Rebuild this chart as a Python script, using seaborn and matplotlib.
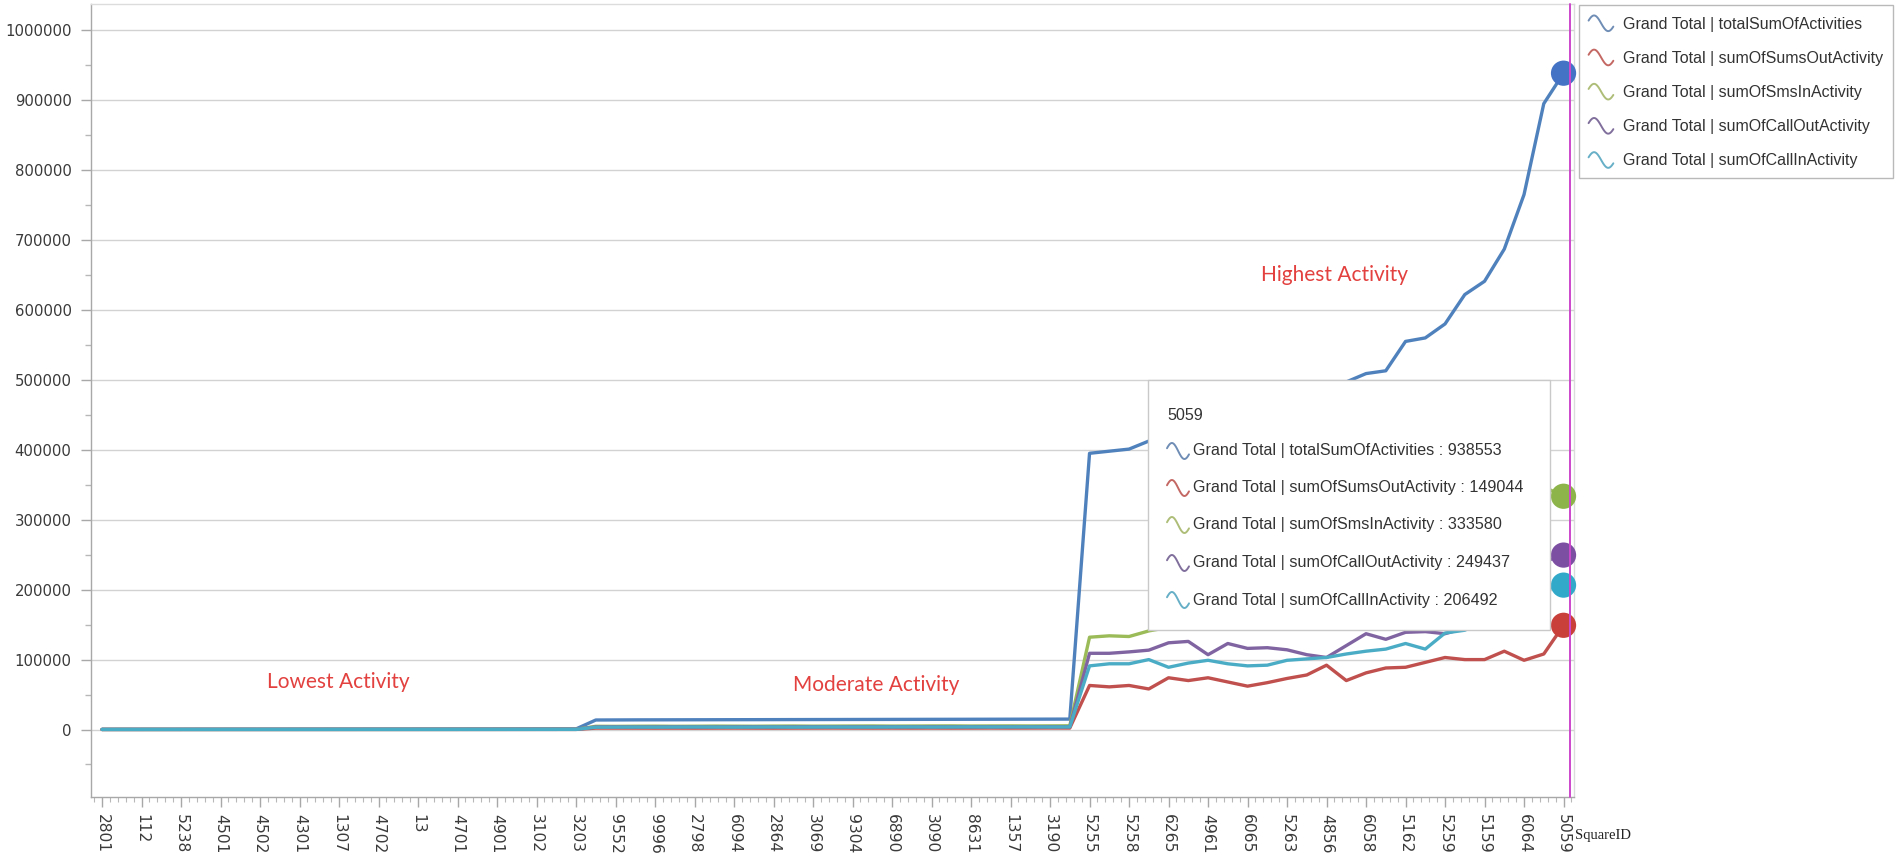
import numpy as np
import pandas as pd
import matplotlib
matplotlib.use("Agg")
import matplotlib.pyplot as plt
import seaborn as sns
from matplotlib.lines import Line2D
from matplotlib.patches import Rectangle
from matplotlib.legend_handler import HandlerBase
from matplotlib.ticker import MultipleLocator, FuncFormatter

# SquareIDs printed on the category axis (every other category carries a label)
square_ids = ["2801", "112", "5238", "4501", "4502", "4301", "1307", "4702", "13",
              "4701", "4901", "3102", "3203", "9552", "9996", "2798", "6094", "2864",
              "3069", "9304", "6890", "3090", "8631", "1357", "3190", "5255", "5258",
              "6265", "4961", "6065", "5263", "4856", "6058", "5162", "5259", "5159",
              "6064", "5059"]

# Activity per square, sorted by total activity (75 categories)
total_activity = [
    300, 320, 340, 360, 380, 400, 420, 440, 460, 480, 500, 520, 540, 560, 580,
    600, 620, 640, 660, 690, 720, 750, 780, 810, 850,
    13600, 13700, 13800, 13850, 13900, 13950, 14000, 14050, 14100, 14150, 14200,
    14250, 14300, 14350, 14400, 14450, 14500, 14550, 14600, 14650, 14700, 14750,
    14800, 14850, 14900,
    395000, 398000, 401000, 412500, 433000, 440000, 445000, 452000, 458000, 464000,
    471000, 478000, 486000, 497000, 509000, 513000, 555000, 560000, 580000, 622000,
    641000, 687000, 765000, 895000, 938553]

sms_out_activity = [
    60, 65, 70, 70, 75, 80, 85, 90, 90, 95, 100, 105, 110, 115, 120, 120, 125, 130,
    135, 140, 145, 150, 155, 160, 170,
    2000, 2000, 2000, 1950, 2000, 1950, 2000, 2050, 2000, 1950, 2000, 2050, 2100,
    2050, 2000, 2050, 2000, 2050, 2000, 2050, 2100, 2050, 2100, 2150, 2100,
    63000, 61000, 63000, 58000, 74000, 70000, 74000, 68000, 62000, 67000, 73000,
    78000, 92000, 70000, 81000, 88000, 89000, 96000, 103000, 100000, 100000,
    112000, 99000, 108000, 149044]

sms_in_activity = [
    90, 95, 100, 110, 115, 120, 125, 130, 140, 145, 150, 155, 160, 165, 170, 180,
    185, 190, 195, 205, 215, 225, 235, 245, 255,
    4600, 4500, 4700, 4800, 4600, 4700, 4900, 4800, 4700, 4900, 5000, 4800, 4900,
    5000, 5100, 4900, 5000, 5100, 5200, 5000, 5100, 5200, 5100, 5200, 5300,
    132000, 134000, 133000, 141000, 146000, 149000, 165000, 167000, 189000, 188000,
    185000, 192000, 188000, 199000, 179000, 181000, 204000, 209000, 202000, 235000,
    224000, 230000, 266000, 347000, 333580]

call_out_activity = [
    80, 85, 90, 95, 100, 105, 110, 115, 120, 125, 130, 135, 140, 145, 150, 155,
    160, 165, 170, 180, 190, 195, 205, 210, 220,
    3700, 3800, 3600, 3700, 3800, 3700, 3600, 3800, 3900, 3700, 3800, 3900, 3700,
    3800, 3800, 3900, 3800, 3900, 3800, 3900, 3900, 3800, 3900, 3900, 3800,
    109000, 109000, 111000, 113500, 124000, 126000, 107000, 123000, 116000, 117000,
    114000, 107000, 103000, 120000, 137000, 129000, 139000, 140000, 137000, 145000,
    162000, 180000, 215000, 240000, 249437]

call_in_activity = [
    70, 75, 80, 85, 90, 95, 100, 105, 110, 115, 120, 125, 130, 135, 140, 145, 150,
    155, 160, 165, 170, 180, 185, 195, 205,
    3300, 3400, 3500, 3400, 3500, 3600, 3500, 3400, 3500, 3600, 3400, 3500, 3600,
    3500, 3500, 3600, 3700, 3500, 3600, 3700, 3600, 3700, 3700, 3600, 3700,
    91000, 94000, 94000, 100000, 89000, 95000, 99000, 94000, 91000, 92000, 99000,
    101000, 103000, 108000, 112000, 115000, 123000, 115000, 138000, 142000, 155000,
    165000, 185000, 200000, 206492]

series_names = ["Grand Total | totalSumOfActivities",
                "Grand Total | sumOfSumsOutActivity",
                "Grand Total | sumOfSmsInActivity",
                "Grand Total | sumOfCallOutActivity",
                "Grand Total | sumOfCallInActivity"]
series_values = [total_activity, sms_out_activity, sms_in_activity,
                 call_out_activity, call_in_activity]
line_colors = ["#4F81BD", "#C0504D", "#9BBB59", "#8064A2", "#4BACC6"]
marker_colors = ["#4472C4", "#C9403A", "#8CB44A", "#7D4FA3", "#33A9C9"]
icon_colors = ["#6F8DB5", "#C46864", "#AEBE78", "#806F9C", "#66AFC6"]

hovered_id = square_ids[-1]
zone_labels = ["Lowest Activity", "Moderate Activity", "Highest Activity"]
zone_pos = [11.95, 39.2, 62.4]
zone_y = [67500, 63000, 650000]

# ---------------------------------------------------------------------------
sns.set_theme(style="white")
plt.rcParams["font.family"] = ["DejaVu Sans"]

W, H = 1903, 860
fig = plt.figure(figsize=(W / 100, H / 100), dpi=100)
fig.patch.set_facecolor("white")
ax = fig.add_axes([91 / W, 63 / H, 1483 / W, 793 / H])

n = len(total_activity)
pos = np.arange(n)
df = pd.DataFrame({
    "pos": np.tile(pos, len(series_names)),
    "value": np.concatenate([np.asarray(v, dtype=float) for v in series_values]),
    "series": np.repeat(series_names, n),
})

sns.lineplot(data=df, x="pos", y="value", hue="series", hue_order=series_names,
             palette=dict(zip(series_names, line_colors)), linewidth=2.4,
             estimator=None, sort=False, legend=False, ax=ax, zorder=3)
for ln in ax.get_lines():
    ln.set_solid_joinstyle("round")
    ln.set_solid_capstyle("round")

last = df[df["pos"] == pos[-1]]
sns.scatterplot(data=last, x="pos", y="value", hue="series", hue_order=series_names,
                palette=dict(zip(series_names, marker_colors)), s=330,
                edgecolor="none", legend=False, ax=ax, zorder=6, clip_on=False)

# axes styling
ax.set_xlim(-0.56, 74.53)
ax.set_ylim(-96500, 1037500)
ax.set_xlabel("")
ax.set_ylabel("")
ax.set_facecolor("white")

ax.yaxis.set_major_locator(MultipleLocator(100000))
ax.yaxis.set_minor_locator(MultipleLocator(50000))
ax.yaxis.set_major_formatter(FuncFormatter(lambda v, _: f"{int(round(v))}"))
ax.yaxis.grid(True, which="major", color="#d2d2d2", linewidth=1.0)
ax.xaxis.grid(False)
ax.set_axisbelow(True)

ax.set_xticks(pos[::2])
ax.set_xticklabels(square_ids, rotation=-90, fontsize=11.2, color="#3a3a3a")
ax.xaxis.set_minor_locator(MultipleLocator(0.4))

ax.tick_params(axis="y", which="major", length=7, width=1, color="#a8a8a8",
               direction="out", pad=7, labelsize=10.7, labelcolor="#3a3a3a", left=True)
ax.tick_params(axis="y", which="minor", length=4, width=1, color="#b8b8b8",
               direction="out", left=True)
ax.tick_params(axis="x", which="major", length=7, width=1, color="#a8a8a8",
               direction="out", pad=5, bottom=True)
ax.tick_params(axis="x", which="minor", length=3.5, width=0.8, color="#b8b8b8",
               direction="out", bottom=True)

for side in ["left", "bottom"]:
    ax.spines[side].set_color("#a8a8a8")
    ax.spines[side].set_linewidth(1.0)
for side in ["top", "right"]:
    ax.spines[side].set_color("#dcdcdc")
    ax.spines[side].set_linewidth(1.0)

# crosshair on the hovered SquareID
ax.axvline(74.33, ymin=0, ymax=1.0, color="#CC48CC", linewidth=1.4, zorder=7,
           clip_on=False)

# zone annotations
for label, xp, yp in zip(zone_labels, zone_pos, zone_y):
    ax.text(xp, yp, label, color="#E2413F", fontsize=15, ha="center",
            va="center", family=["Lato", "DejaVu Sans"], zorder=4)

fig.text(1575 / W, 1 - 835 / H, "SquareID", family=["Liberation Serif"],
         fontsize=10.5, ha="left", va="center", color="#222222")


# legend with wave-shaped series icons
class WaveHandler(HandlerBase):
    def create_artists(self, legend, orig_handle, xdescent, ydescent, width,
                       height, fontsize, trans):
        t = np.linspace(0.35, 5.85, 40)
        x = -xdescent + (t - t[0]) / (t[-1] - t[0]) * width
        y = -ydescent + height / 2 + np.sin(t) * height * 0.45
        wave = Line2D(x, y, color=orig_handle.get_color(), linewidth=1.4,
                      solid_capstyle="round")
        wave.set_transform(trans)
        return [wave]


handles = [Line2D([], [], color=c) for c in icon_colors]
leg = ax.legend(handles, series_names, loc="upper left",
                bbox_to_anchor=(1579 / W, 1 - 5 / H), bbox_transform=fig.transFigure,
                handler_map={Line2D: WaveHandler()},
                prop={"family": "Liberation Sans", "size": 11.5},
                labelspacing=1.05, handlelength=1.55, handleheight=1.3,
                handletextpad=0.6, borderpad=0.6, borderaxespad=0,
                frameon=True, fancybox=False, framealpha=1)
leg.get_frame().set_edgecolor("#b9b9b9")
leg.get_frame().set_linewidth(1.0)
for txt in leg.get_texts():
    txt.set_color("#333333")


# tooltip for the hovered SquareID
def fx(px):
    return px / W


def fy(py):
    return 1 - py / H


tip_font = {"family": "Liberation Sans", "size": 11.6}
tip = Rectangle((fx(1148), fy(630)), fx(1550) - fx(1148), fy(380) - fy(630),
                transform=fig.transFigure, facecolor="white", edgecolor="#c9c9c9",
                linewidth=1.0, zorder=20)
fig.add_artist(tip)
fig.text(fx(1167), fy(415), hovered_id, color="#333333", ha="left",
         va="center", zorder=21, **tip_font)
row_y = [451, 488, 525, 563, 600]
for name, vals, col, ry in zip(series_names, series_values, icon_colors, row_y):
    t = np.linspace(0.35, 5.85, 40)
    ix = 1167 + (t - t[0]) / (t[-1] - t[0]) * 22
    iy = ry - np.sin(t) * 8
    fig.add_artist(Line2D(fx(ix), fy(iy), transform=fig.transFigure, color=col,
                          linewidth=1.4, zorder=21))
    fig.text(fx(1193), fy(ry), f"{name} : {vals[-1]}", color="#333333",
             ha="left", va="center", zorder=21, **tip_font)

fig.savefig("out.png", dpi=100, facecolor="white")
